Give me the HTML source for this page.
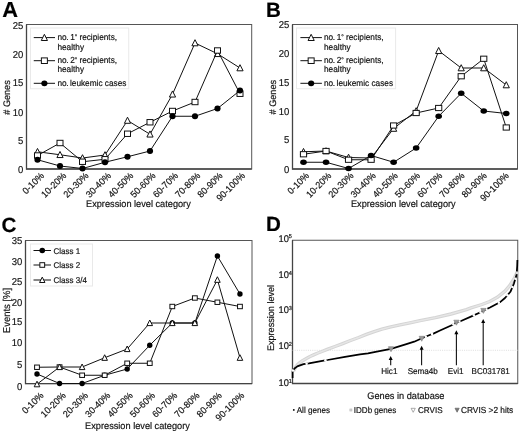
<!DOCTYPE html>
<html lang="en">
<head>
<meta charset="utf-8">
<title>Figure</title>
<style>
html,body{margin:0;padding:0;background:#fff;}
body{width:520px;height:433px;overflow:hidden;}
svg{display:block;font-family:"Liberation Sans", sans-serif;text-rendering:geometricPrecision;}
text{stroke:#111;stroke-width:0.18px;paint-order:stroke;}
</style>
</head>
<body>
<svg width="520" height="433" viewBox="0 0 520 433">
<rect x="0" y="0" width="520" height="433" fill="#fff"/>
<rect x="26.5" y="24.5" width="225.2" height="144.5" fill="#fff" stroke="#555" stroke-width="1"/>
<path d="M26.5,24.5 V169.0 H251.7" fill="none" stroke="#444" stroke-width="1.3"/>
<text transform="translate(2.30,16.90) scale(1,1)" font-size="21.80" text-anchor="start" font-weight="bold" fill="#000" stroke="none">A</text>
<text transform="translate(23.20,29.22) scale(0.955,1)" font-size="9.95" text-anchor="end" font-weight="normal" fill="#111" >25</text>
<text transform="translate(23.20,58.22) scale(0.955,1)" font-size="9.95" text-anchor="end" font-weight="normal" fill="#111" >20</text>
<text transform="translate(23.20,86.22) scale(0.955,1)" font-size="9.95" text-anchor="end" font-weight="normal" fill="#111" >15</text>
<text transform="translate(23.20,115.82) scale(0.955,1)" font-size="9.95" text-anchor="end" font-weight="normal" fill="#111" >10</text>
<text transform="translate(23.20,143.92) scale(0.955,1)" font-size="9.95" text-anchor="end" font-weight="normal" fill="#111" >5</text>
<text transform="translate(23.20,172.92) scale(0.955,1)" font-size="9.95" text-anchor="end" font-weight="normal" fill="#111" >0</text>
<text transform="translate(9.80,97.50) rotate(-90) scale(0.955,1)" font-size="9.53" text-anchor="middle" fill="#111"># Genes</text>
<text transform="translate(40.00,171.80) rotate(-45) scale(0.955,1)" font-size="9.42" text-anchor="end" fill="#111" y="6.48">0-10%</text>
<text transform="translate(62.33,171.80) rotate(-45) scale(0.955,1)" font-size="9.42" text-anchor="end" fill="#111" y="6.48">10-20%</text>
<text transform="translate(84.66,171.80) rotate(-45) scale(0.955,1)" font-size="9.42" text-anchor="end" fill="#111" y="6.48">20-30%</text>
<text transform="translate(106.99,171.80) rotate(-45) scale(0.955,1)" font-size="9.42" text-anchor="end" fill="#111" y="6.48">30-40%</text>
<text transform="translate(129.32,171.80) rotate(-45) scale(0.955,1)" font-size="9.42" text-anchor="end" fill="#111" y="6.48">40-50%</text>
<text transform="translate(151.65,171.80) rotate(-45) scale(0.955,1)" font-size="9.42" text-anchor="end" fill="#111" y="6.48">50-60%</text>
<text transform="translate(173.98,171.80) rotate(-45) scale(0.955,1)" font-size="9.42" text-anchor="end" fill="#111" y="6.48">60-70%</text>
<text transform="translate(196.31,171.80) rotate(-45) scale(0.955,1)" font-size="9.42" text-anchor="end" fill="#111" y="6.48">70-80%</text>
<text transform="translate(218.64,171.80) rotate(-45) scale(0.955,1)" font-size="9.42" text-anchor="end" fill="#111" y="6.48">80-90%</text>
<text transform="translate(240.97,171.80) rotate(-45) scale(0.955,1)" font-size="9.42" text-anchor="end" fill="#111" y="6.48">90-100%</text>
<text transform="translate(138.40,207.20) scale(0.955,1)" font-size="9.63" text-anchor="middle" font-weight="normal" fill="#111" >Expression level category</text>
<rect x="30.5" y="28" width="98.25" height="60.75" fill="#fff" stroke="#e9e9e9" stroke-width="1"/>
<line x1="33.75" y1="37.6" x2="55" y2="37.6" stroke="#111" stroke-width="1.0"/>
<polygon points="44.38,34.30 47.48,40.50 41.27,40.50" fill="#fff" stroke="#111" stroke-width="1.0" stroke-linejoin="miter"/>
<text transform="translate(57.40,40.10) scale(0.955,1)" font-size="8.67" text-anchor="start" font-weight="normal" fill="#111" >no<tspan dx="-0.5">.</tspan><tspan dx="-0.6"> 1</tspan><tspan font-size="6.6" dy="-0.9">°</tspan><tspan dx="-0.2" dy="0.9"> recipients,</tspan></text>
<text transform="translate(57.40,49.70) scale(0.955,1)" font-size="8.67" text-anchor="start" font-weight="normal" fill="#111" >healthy</text>
<line x1="33.75" y1="60.7" x2="55" y2="60.7" stroke="#111" stroke-width="1.0"/>
<rect x="41.38" y="57.90" width="6.00" height="5.60" fill="#fff" stroke="#111" stroke-width="1.0"/>
<text transform="translate(57.40,63.00) scale(0.955,1)" font-size="8.67" text-anchor="start" font-weight="normal" fill="#111" >no<tspan dx="-0.5">.</tspan><tspan dx="-0.6"> 2</tspan><tspan font-size="6.6" dy="-0.9">°</tspan><tspan dx="-0.2" dy="0.9"> recipients,</tspan></text>
<text transform="translate(57.40,72.20) scale(0.955,1)" font-size="8.67" text-anchor="start" font-weight="normal" fill="#111" >healthy</text>
<line x1="33.75" y1="83.3" x2="55" y2="83.3" stroke="#111" stroke-width="1.0"/>
<ellipse cx="44.38" cy="83.30" rx="3.1" ry="2.9" fill="#000"/>
<text transform="translate(57.40,86.00) scale(0.955,1)" font-size="8.67" text-anchor="start" font-weight="normal" fill="#111" >no<tspan dx="-0.5">.</tspan><tspan dx="-0.8"> leukemic cases</tspan></text>
<polyline points="37.50,151.75 60.00,154.75 82.50,158.00 105.00,155.00 127.50,120.50 150.00,134.25 172.50,94.25 195.00,43.00 217.50,53.75 240.00,68.00" fill="none" stroke="#111" stroke-width="1.0"/>
<polygon points="37.50,148.45 40.60,154.55 34.40,154.55" fill="#fff" stroke="#111" stroke-width="1.0" stroke-linejoin="miter"/>
<polygon points="60.00,151.45 63.10,157.55 56.90,157.55" fill="#fff" stroke="#111" stroke-width="1.0" stroke-linejoin="miter"/>
<polygon points="82.50,154.70 85.60,160.80 79.40,160.80" fill="#fff" stroke="#111" stroke-width="1.0" stroke-linejoin="miter"/>
<polygon points="105.00,151.70 108.10,157.80 101.90,157.80" fill="#fff" stroke="#111" stroke-width="1.0" stroke-linejoin="miter"/>
<polygon points="127.50,117.20 130.60,123.30 124.40,123.30" fill="#fff" stroke="#111" stroke-width="1.0" stroke-linejoin="miter"/>
<polygon points="150.00,130.95 153.10,137.05 146.90,137.05" fill="#fff" stroke="#111" stroke-width="1.0" stroke-linejoin="miter"/>
<polygon points="172.50,90.95 175.60,97.05 169.40,97.05" fill="#fff" stroke="#111" stroke-width="1.0" stroke-linejoin="miter"/>
<polygon points="195.00,39.70 198.10,45.80 191.90,45.80" fill="#fff" stroke="#111" stroke-width="1.0" stroke-linejoin="miter"/>
<polygon points="217.50,50.45 220.60,56.55 214.40,56.55" fill="#fff" stroke="#111" stroke-width="1.0" stroke-linejoin="miter"/>
<polygon points="240.00,64.70 243.10,70.80 236.90,70.80" fill="#fff" stroke="#111" stroke-width="1.0" stroke-linejoin="miter"/>
<polyline points="37.50,155.50 60.00,143.00 82.50,161.75 105.00,159.25 127.50,133.75 150.00,122.25 172.50,111.00 195.00,102.00 217.50,50.50 240.00,93.75" fill="none" stroke="#111" stroke-width="1.0"/>
<rect x="34.50" y="152.80" width="6.00" height="5.40" fill="#fff" stroke="#111" stroke-width="1.0"/>
<rect x="57.00" y="140.30" width="6.00" height="5.40" fill="#fff" stroke="#111" stroke-width="1.0"/>
<rect x="79.50" y="159.05" width="6.00" height="5.40" fill="#fff" stroke="#111" stroke-width="1.0"/>
<rect x="102.00" y="156.55" width="6.00" height="5.40" fill="#fff" stroke="#111" stroke-width="1.0"/>
<rect x="124.50" y="131.05" width="6.00" height="5.40" fill="#fff" stroke="#111" stroke-width="1.0"/>
<rect x="147.00" y="119.55" width="6.00" height="5.40" fill="#fff" stroke="#111" stroke-width="1.0"/>
<rect x="169.50" y="108.30" width="6.00" height="5.40" fill="#fff" stroke="#111" stroke-width="1.0"/>
<rect x="192.00" y="99.30" width="6.00" height="5.40" fill="#fff" stroke="#111" stroke-width="1.0"/>
<rect x="214.50" y="47.80" width="6.00" height="5.40" fill="#fff" stroke="#111" stroke-width="1.0"/>
<rect x="237.00" y="91.05" width="6.00" height="5.40" fill="#fff" stroke="#111" stroke-width="1.0"/>
<polyline points="37.50,159.75 60.00,166.00 82.50,168.50 105.00,162.25 127.50,156.75 150.00,151.00 172.50,116.25 195.00,116.25 217.50,108.50 240.00,90.50" fill="none" stroke="#111" stroke-width="1.0"/>
<ellipse cx="37.50" cy="159.75" rx="3.1" ry="2.9" fill="#000"/>
<ellipse cx="60.00" cy="166.00" rx="3.1" ry="2.9" fill="#000"/>
<ellipse cx="82.50" cy="168.50" rx="3.1" ry="2.9" fill="#000"/>
<ellipse cx="105.00" cy="162.25" rx="3.1" ry="2.9" fill="#000"/>
<ellipse cx="127.50" cy="156.75" rx="3.1" ry="2.9" fill="#000"/>
<ellipse cx="150.00" cy="151.00" rx="3.1" ry="2.9" fill="#000"/>
<ellipse cx="172.50" cy="116.25" rx="3.1" ry="2.9" fill="#000"/>
<ellipse cx="195.00" cy="116.25" rx="3.1" ry="2.9" fill="#000"/>
<ellipse cx="217.50" cy="108.50" rx="3.1" ry="2.9" fill="#000"/>
<ellipse cx="240.00" cy="90.50" rx="3.1" ry="2.9" fill="#000"/>
<rect x="292.5" y="24.5" width="225.0" height="144.5" fill="#fff" stroke="#555" stroke-width="1"/>
<path d="M292.5,24.5 V169.0 H517.5" fill="none" stroke="#444" stroke-width="1.3"/>
<text transform="translate(266.00,16.80) scale(1,1)" font-size="20.60" text-anchor="start" font-weight="bold" fill="#000" stroke="none">B</text>
<text transform="translate(289.30,28.42) scale(0.955,1)" font-size="9.95" text-anchor="end" font-weight="normal" fill="#111" >25</text>
<text transform="translate(289.30,56.72) scale(0.955,1)" font-size="9.95" text-anchor="end" font-weight="normal" fill="#111" >20</text>
<text transform="translate(289.30,86.02) scale(0.955,1)" font-size="9.95" text-anchor="end" font-weight="normal" fill="#111" >15</text>
<text transform="translate(289.30,114.72) scale(0.955,1)" font-size="9.95" text-anchor="end" font-weight="normal" fill="#111" >10</text>
<text transform="translate(289.30,143.42) scale(0.955,1)" font-size="9.95" text-anchor="end" font-weight="normal" fill="#111" >5</text>
<text transform="translate(289.30,173.32) scale(0.955,1)" font-size="9.95" text-anchor="end" font-weight="normal" fill="#111" >0</text>
<text transform="translate(275.50,97.20) rotate(-90) scale(0.955,1)" font-size="9.53" text-anchor="middle" fill="#111"># Genes</text>
<text transform="translate(305.10,171.80) rotate(-45) scale(0.955,1)" font-size="9.42" text-anchor="end" fill="#111" y="6.48">0-10%</text>
<text transform="translate(327.30,171.80) rotate(-45) scale(0.955,1)" font-size="9.42" text-anchor="end" fill="#111" y="6.48">10-20%</text>
<text transform="translate(349.50,171.80) rotate(-45) scale(0.955,1)" font-size="9.42" text-anchor="end" fill="#111" y="6.48">20-30%</text>
<text transform="translate(371.70,171.80) rotate(-45) scale(0.955,1)" font-size="9.42" text-anchor="end" fill="#111" y="6.48">30-40%</text>
<text transform="translate(393.90,171.80) rotate(-45) scale(0.955,1)" font-size="9.42" text-anchor="end" fill="#111" y="6.48">40-50%</text>
<text transform="translate(416.10,171.80) rotate(-45) scale(0.955,1)" font-size="9.42" text-anchor="end" fill="#111" y="6.48">50-60%</text>
<text transform="translate(438.30,171.80) rotate(-45) scale(0.955,1)" font-size="9.42" text-anchor="end" fill="#111" y="6.48">60-70%</text>
<text transform="translate(460.50,171.80) rotate(-45) scale(0.955,1)" font-size="9.42" text-anchor="end" fill="#111" y="6.48">70-80%</text>
<text transform="translate(482.70,171.80) rotate(-45) scale(0.955,1)" font-size="9.42" text-anchor="end" fill="#111" y="6.48">80-90%</text>
<text transform="translate(504.90,171.80) rotate(-45) scale(0.955,1)" font-size="9.42" text-anchor="end" fill="#111" y="6.48">90-100%</text>
<text transform="translate(403.30,207.40) scale(0.955,1)" font-size="9.63" text-anchor="middle" font-weight="normal" fill="#111" >Expression level category</text>
<rect x="296.5" y="28" width="99.10000000000002" height="60.75" fill="#fff" stroke="#e9e9e9" stroke-width="1"/>
<line x1="300.4" y1="37.6" x2="321.9" y2="37.6" stroke="#111" stroke-width="1.0"/>
<polygon points="311.15,34.30 314.25,40.50 308.05,40.50" fill="#fff" stroke="#111" stroke-width="1.0" stroke-linejoin="miter"/>
<text transform="translate(324.00,40.10) scale(0.955,1)" font-size="8.67" text-anchor="start" font-weight="normal" fill="#111" >no<tspan dx="-0.5">.</tspan><tspan dx="-0.6"> 1</tspan><tspan font-size="6.6" dy="-0.9">°</tspan><tspan dx="-0.2" dy="0.9"> recipients,</tspan></text>
<text transform="translate(324.00,49.70) scale(0.955,1)" font-size="8.67" text-anchor="start" font-weight="normal" fill="#111" >healthy</text>
<line x1="300.4" y1="60.7" x2="321.9" y2="60.7" stroke="#111" stroke-width="1.0"/>
<rect x="308.15" y="57.90" width="6.00" height="5.60" fill="#fff" stroke="#111" stroke-width="1.0"/>
<text transform="translate(324.00,63.00) scale(0.955,1)" font-size="8.67" text-anchor="start" font-weight="normal" fill="#111" >no<tspan dx="-0.5">.</tspan><tspan dx="-0.6"> 2</tspan><tspan font-size="6.6" dy="-0.9">°</tspan><tspan dx="-0.2" dy="0.9"> recipients,</tspan></text>
<text transform="translate(324.00,72.20) scale(0.955,1)" font-size="8.67" text-anchor="start" font-weight="normal" fill="#111" >healthy</text>
<line x1="300.4" y1="83.3" x2="321.9" y2="83.3" stroke="#111" stroke-width="1.0"/>
<ellipse cx="311.15" cy="83.30" rx="3.1" ry="2.9" fill="#000"/>
<text transform="translate(324.00,86.00) scale(0.955,1)" font-size="8.67" text-anchor="start" font-weight="normal" fill="#111" >no<tspan dx="-0.5">.</tspan><tspan dx="-0.8"> leukemic cases</tspan></text>
<polyline points="303.50,151.75 326.03,151.00 348.56,157.50 371.09,158.00 393.62,128.50 416.15,111.00 438.68,50.75 461.21,68.00 483.74,68.00 506.27,85.00" fill="none" stroke="#111" stroke-width="1.0"/>
<polygon points="303.50,148.45 306.60,154.55 300.40,154.55" fill="#fff" stroke="#111" stroke-width="1.0" stroke-linejoin="miter"/>
<polygon points="326.03,147.70 329.13,153.80 322.93,153.80" fill="#fff" stroke="#111" stroke-width="1.0" stroke-linejoin="miter"/>
<polygon points="348.56,154.20 351.66,160.30 345.46,160.30" fill="#fff" stroke="#111" stroke-width="1.0" stroke-linejoin="miter"/>
<polygon points="371.09,154.70 374.19,160.80 367.99,160.80" fill="#fff" stroke="#111" stroke-width="1.0" stroke-linejoin="miter"/>
<polygon points="393.62,125.20 396.72,131.30 390.52,131.30" fill="#fff" stroke="#111" stroke-width="1.0" stroke-linejoin="miter"/>
<polygon points="416.15,107.70 419.25,113.80 413.05,113.80" fill="#fff" stroke="#111" stroke-width="1.0" stroke-linejoin="miter"/>
<polygon points="438.68,47.45 441.78,53.55 435.58,53.55" fill="#fff" stroke="#111" stroke-width="1.0" stroke-linejoin="miter"/>
<polygon points="461.21,64.70 464.31,70.80 458.11,70.80" fill="#fff" stroke="#111" stroke-width="1.0" stroke-linejoin="miter"/>
<polygon points="483.74,64.70 486.84,70.80 480.64,70.80" fill="#fff" stroke="#111" stroke-width="1.0" stroke-linejoin="miter"/>
<polygon points="506.27,81.70 509.37,87.80 503.17,87.80" fill="#fff" stroke="#111" stroke-width="1.0" stroke-linejoin="miter"/>
<polyline points="303.50,154.25 326.03,151.00 348.56,159.75 371.09,159.75 393.62,125.50 416.15,113.00 438.68,108.00 461.21,76.25 483.74,58.75 506.27,127.50" fill="none" stroke="#111" stroke-width="1.0"/>
<rect x="300.40" y="151.65" width="6.20" height="5.20" fill="#fff" stroke="#111" stroke-width="1.0"/>
<rect x="322.93" y="148.40" width="6.20" height="5.20" fill="#fff" stroke="#111" stroke-width="1.0"/>
<rect x="345.46" y="157.15" width="6.20" height="5.20" fill="#fff" stroke="#111" stroke-width="1.0"/>
<rect x="367.99" y="157.15" width="6.20" height="5.20" fill="#fff" stroke="#111" stroke-width="1.0"/>
<rect x="390.52" y="122.90" width="6.20" height="5.20" fill="#fff" stroke="#111" stroke-width="1.0"/>
<rect x="413.05" y="110.40" width="6.20" height="5.20" fill="#fff" stroke="#111" stroke-width="1.0"/>
<rect x="435.58" y="105.40" width="6.20" height="5.20" fill="#fff" stroke="#111" stroke-width="1.0"/>
<rect x="458.11" y="73.65" width="6.20" height="5.20" fill="#fff" stroke="#111" stroke-width="1.0"/>
<rect x="480.64" y="56.15" width="6.20" height="5.20" fill="#fff" stroke="#111" stroke-width="1.0"/>
<rect x="503.17" y="124.90" width="6.20" height="5.20" fill="#fff" stroke="#111" stroke-width="1.0"/>
<polyline points="303.50,162.25 326.03,162.25 348.56,168.50 371.09,155.50 393.62,162.25 416.15,148.00 438.68,116.25 461.21,93.25 483.74,111.00 506.27,113.50" fill="none" stroke="#111" stroke-width="1.0"/>
<ellipse cx="303.50" cy="162.25" rx="3.3" ry="2.8" fill="#000"/>
<ellipse cx="326.03" cy="162.25" rx="3.3" ry="2.8" fill="#000"/>
<ellipse cx="348.56" cy="168.50" rx="3.3" ry="2.8" fill="#000"/>
<ellipse cx="371.09" cy="155.50" rx="3.3" ry="2.8" fill="#000"/>
<ellipse cx="393.62" cy="162.25" rx="3.3" ry="2.8" fill="#000"/>
<ellipse cx="416.15" cy="148.00" rx="3.3" ry="2.8" fill="#000"/>
<ellipse cx="438.68" cy="116.25" rx="3.3" ry="2.8" fill="#000"/>
<ellipse cx="461.21" cy="93.25" rx="3.3" ry="2.8" fill="#000"/>
<ellipse cx="483.74" cy="111.00" rx="3.3" ry="2.8" fill="#000"/>
<ellipse cx="506.27" cy="113.50" rx="3.3" ry="2.8" fill="#000"/>
<rect x="25.5" y="240.5" width="226.5" height="143.10000000000002" fill="#fff" stroke="#555" stroke-width="1"/>
<path d="M25.5,240.5 V383.6 H252" fill="none" stroke="#444" stroke-width="1.3"/>
<text transform="translate(1.60,231.70) scale(1,1)" font-size="20.60" text-anchor="start" font-weight="bold" fill="#000" stroke="none">C</text>
<text transform="translate(22.20,244.32) scale(0.955,1)" font-size="9.95" text-anchor="end" font-weight="normal" fill="#111" >35</text>
<text transform="translate(22.20,265.22) scale(0.955,1)" font-size="9.95" text-anchor="end" font-weight="normal" fill="#111" >30</text>
<text transform="translate(22.20,284.82) scale(0.955,1)" font-size="9.95" text-anchor="end" font-weight="normal" fill="#111" >25</text>
<text transform="translate(22.20,305.52) scale(0.955,1)" font-size="9.95" text-anchor="end" font-weight="normal" fill="#111" >20</text>
<text transform="translate(22.20,325.32) scale(0.955,1)" font-size="9.95" text-anchor="end" font-weight="normal" fill="#111" >15</text>
<text transform="translate(22.20,345.52) scale(0.955,1)" font-size="9.95" text-anchor="end" font-weight="normal" fill="#111" >10</text>
<text transform="translate(22.20,367.52) scale(0.955,1)" font-size="9.95" text-anchor="end" font-weight="normal" fill="#111" >5</text>
<text transform="translate(22.20,389.82) scale(0.955,1)" font-size="9.95" text-anchor="end" font-weight="normal" fill="#111" >0</text>
<text transform="translate(10.00,310.50) rotate(-90) scale(0.955,1)" font-size="9.95" text-anchor="middle" fill="#111">Events [%]</text>
<text transform="translate(39.50,391.40) rotate(-45) scale(0.955,1)" font-size="9.42" text-anchor="end" fill="#111" y="6.48">0-10%</text>
<text transform="translate(61.80,391.40) rotate(-45) scale(0.955,1)" font-size="9.42" text-anchor="end" fill="#111" y="6.48">10-20%</text>
<text transform="translate(84.10,391.40) rotate(-45) scale(0.955,1)" font-size="9.42" text-anchor="end" fill="#111" y="6.48">20-30%</text>
<text transform="translate(106.40,391.40) rotate(-45) scale(0.955,1)" font-size="9.42" text-anchor="end" fill="#111" y="6.48">30-40%</text>
<text transform="translate(128.70,391.40) rotate(-45) scale(0.955,1)" font-size="9.42" text-anchor="end" fill="#111" y="6.48">40-50%</text>
<text transform="translate(151.00,391.40) rotate(-45) scale(0.955,1)" font-size="9.42" text-anchor="end" fill="#111" y="6.48">50-60%</text>
<text transform="translate(173.30,391.40) rotate(-45) scale(0.955,1)" font-size="9.42" text-anchor="end" fill="#111" y="6.48">60-70%</text>
<text transform="translate(195.60,391.40) rotate(-45) scale(0.955,1)" font-size="9.42" text-anchor="end" fill="#111" y="6.48">70-80%</text>
<text transform="translate(217.90,391.40) rotate(-45) scale(0.955,1)" font-size="9.42" text-anchor="end" fill="#111" y="6.48">80-90%</text>
<text transform="translate(240.20,391.40) rotate(-45) scale(0.955,1)" font-size="9.42" text-anchor="end" fill="#111" y="6.48">90-100%</text>
<text transform="translate(137.50,428.50) scale(0.955,1)" font-size="9.63" text-anchor="middle" font-weight="normal" fill="#111" >Expression level category</text>
<rect x="30.5" y="244" width="62.0" height="42" fill="#fff" stroke="#e9e9e9" stroke-width="1"/>
<line x1="33.5" y1="250.5" x2="51" y2="250.5" stroke="#111" stroke-width="1.0"/>
<ellipse cx="42.25" cy="250.50" rx="2.8" ry="2.7" fill="#000"/>
<text transform="translate(53.50,253.60) scale(0.955,1)" font-size="8.38" text-anchor="start" font-weight="normal" fill="#111" >Class 1</text>
<line x1="33.5" y1="265" x2="51" y2="265" stroke="#111" stroke-width="1.0"/>
<rect x="39.85" y="262.70" width="4.80" height="4.60" fill="#fff" stroke="#111" stroke-width="1.0"/>
<text transform="translate(53.50,268.00) scale(0.955,1)" font-size="8.38" text-anchor="start" font-weight="normal" fill="#111" >Class 2</text>
<line x1="33.5" y1="280" x2="51" y2="280" stroke="#111" stroke-width="1.0"/>
<polygon points="42.25,277.10 44.95,282.50 39.55,282.50" fill="#fff" stroke="#111" stroke-width="1.0" stroke-linejoin="miter"/>
<text transform="translate(53.50,282.80) scale(0.955,1)" font-size="8.38" text-anchor="start" font-weight="normal" fill="#111" >Class 3/4</text>
<polyline points="37.00,374.00 59.55,383.50 82.10,383.50 104.65,375.25 127.20,369.00 149.75,345.25 172.30,323.00 194.85,323.00 217.40,256.00 239.95,294.00" fill="none" stroke="#111" stroke-width="1.0"/>
<ellipse cx="37.00" cy="374.00" rx="2.7" ry="2.65" fill="#000"/>
<ellipse cx="59.55" cy="383.50" rx="2.7" ry="2.65" fill="#000"/>
<ellipse cx="82.10" cy="383.50" rx="2.7" ry="2.65" fill="#000"/>
<ellipse cx="104.65" cy="375.25" rx="2.7" ry="2.65" fill="#000"/>
<ellipse cx="127.20" cy="369.00" rx="2.7" ry="2.65" fill="#000"/>
<ellipse cx="149.75" cy="345.25" rx="2.7" ry="2.65" fill="#000"/>
<ellipse cx="172.30" cy="323.00" rx="2.7" ry="2.65" fill="#000"/>
<ellipse cx="194.85" cy="323.00" rx="2.7" ry="2.65" fill="#000"/>
<ellipse cx="217.40" cy="256.00" rx="2.7" ry="2.65" fill="#000"/>
<ellipse cx="239.95" cy="294.00" rx="2.7" ry="2.65" fill="#000"/>
<polyline points="37.00,367.25 59.55,367.00 82.10,375.25 104.65,375.25 127.20,363.25 149.75,363.25 172.30,306.50 194.85,298.00 217.40,302.25 239.95,306.50" fill="none" stroke="#111" stroke-width="1.0"/>
<rect x="34.60" y="365.05" width="4.80" height="4.40" fill="#fff" stroke="#111" stroke-width="1.0"/>
<rect x="57.15" y="364.80" width="4.80" height="4.40" fill="#fff" stroke="#111" stroke-width="1.0"/>
<rect x="79.70" y="373.05" width="4.80" height="4.40" fill="#fff" stroke="#111" stroke-width="1.0"/>
<rect x="102.25" y="373.05" width="4.80" height="4.40" fill="#fff" stroke="#111" stroke-width="1.0"/>
<rect x="124.80" y="361.05" width="4.80" height="4.40" fill="#fff" stroke="#111" stroke-width="1.0"/>
<rect x="147.35" y="361.05" width="4.80" height="4.40" fill="#fff" stroke="#111" stroke-width="1.0"/>
<rect x="169.90" y="304.30" width="4.80" height="4.40" fill="#fff" stroke="#111" stroke-width="1.0"/>
<rect x="192.45" y="295.80" width="4.80" height="4.40" fill="#fff" stroke="#111" stroke-width="1.0"/>
<rect x="215.00" y="300.05" width="4.80" height="4.40" fill="#fff" stroke="#111" stroke-width="1.0"/>
<rect x="237.55" y="304.30" width="4.80" height="4.40" fill="#fff" stroke="#111" stroke-width="1.0"/>
<polyline points="37.00,384.20 59.55,367.00 82.10,367.00 104.65,357.75 127.20,349.00 149.75,323.00 172.30,323.00 194.85,323.00 217.40,279.75 239.95,357.75" fill="none" stroke="#111" stroke-width="1.0"/>
<polygon points="37.00,381.20 39.80,386.80 34.20,386.80" fill="#fff" stroke="#111" stroke-width="1.0" stroke-linejoin="miter"/>
<polygon points="59.55,364.00 62.35,369.60 56.75,369.60" fill="#fff" stroke="#111" stroke-width="1.0" stroke-linejoin="miter"/>
<polygon points="82.10,364.00 84.90,369.60 79.30,369.60" fill="#fff" stroke="#111" stroke-width="1.0" stroke-linejoin="miter"/>
<polygon points="104.65,354.75 107.45,360.35 101.85,360.35" fill="#fff" stroke="#111" stroke-width="1.0" stroke-linejoin="miter"/>
<polygon points="127.20,346.00 130.00,351.60 124.40,351.60" fill="#fff" stroke="#111" stroke-width="1.0" stroke-linejoin="miter"/>
<polygon points="149.75,320.00 152.55,325.60 146.95,325.60" fill="#fff" stroke="#111" stroke-width="1.0" stroke-linejoin="miter"/>
<polygon points="172.30,320.00 175.10,325.60 169.50,325.60" fill="#fff" stroke="#111" stroke-width="1.0" stroke-linejoin="miter"/>
<polygon points="194.85,320.00 197.65,325.60 192.05,325.60" fill="#fff" stroke="#111" stroke-width="1.0" stroke-linejoin="miter"/>
<polygon points="217.40,276.75 220.20,282.35 214.60,282.35" fill="#fff" stroke="#111" stroke-width="1.0" stroke-linejoin="miter"/>
<polygon points="239.95,354.75 242.75,360.35 237.15,360.35" fill="#fff" stroke="#111" stroke-width="1.0" stroke-linejoin="miter"/>
<rect x="292.5" y="240.25" width="225.25" height="143.25" fill="#fff" stroke="#555" stroke-width="1"/>
<path d="M292.5,240.25 V383.5 H517.75" fill="none" stroke="#444" stroke-width="1.3"/>
<text transform="translate(266.00,231.40) scale(1,1)" font-size="20.60" text-anchor="start" font-weight="bold" fill="#000" stroke="none">D</text>
<text transform="translate(291.9,241.70) scale(0.955,1)" font-size="9.74" text-anchor="end" fill="#111">10<tspan font-size="5.8" dy="-3.3">5</tspan></text>
<text transform="translate(291.9,278.30) scale(0.955,1)" font-size="9.74" text-anchor="end" fill="#111">10<tspan font-size="5.8" dy="-3.3">4</tspan></text>
<text transform="translate(291.9,313.30) scale(0.955,1)" font-size="9.74" text-anchor="end" fill="#111">10<tspan font-size="5.8" dy="-3.3">3</tspan></text>
<text transform="translate(291.9,349.40) scale(0.955,1)" font-size="9.74" text-anchor="end" fill="#111">10<tspan font-size="5.8" dy="-3.3">2</tspan></text>
<text transform="translate(291.9,385.80) scale(0.955,1)" font-size="9.74" text-anchor="end" fill="#111">10<tspan font-size="5.8" dy="-3.3">1</tspan></text>
<text transform="translate(273.90,318.00) rotate(-90) scale(0.955,1)" font-size="9.53" text-anchor="middle" fill="#111">Expression level</text>
<text transform="translate(405.90,398.70) scale(0.955,1)" font-size="9.63" text-anchor="middle" font-weight="normal" fill="#111" >Genes in database</text>
<line x1="292.5" y1="350.3" x2="517.75" y2="350.3" stroke="#d4d4d4" stroke-width="0.8" stroke-dasharray="1 1.2"/>
<path d="M294.20,370.00 L295.60,367.00 L297.60,364.60 L300.20,362.40 L303.00,360.40 L306.40,358.50 L310.00,356.50 L314.20,354.60 L318.00,353.00 L321.90,351.50 L327.20,349.40 L335.00,346.50 L342.70,343.60 L350.50,340.50 L358.70,337.50 L366.40,334.40 L374.20,331.60 L381.90,329.20 L389.70,327.10 L400.00,324.90 L410.00,322.80 L420.00,320.70 L435.50,317.60 L451.00,314.00 L466.40,309.60 L471.00,307.90 L481.90,304.50 L489.70,301.50 L497.30,297.30 L505.00,291.20 L509.70,285.70 L514.30,278.40 L516.60,273.40" fill="none" stroke="#d4d4d4" stroke-width="3.4" stroke-linejoin="round" stroke-linecap="round"/>
<path d="M294.20,370.00 L295.60,367.00 L297.60,364.60 L300.20,362.40 L303.00,360.40 L306.40,358.50 L310.00,356.50 L314.20,354.60 L318.00,353.00 L321.90,351.50 L327.20,349.40 L335.00,346.50 L342.70,343.60 L350.50,340.50 L358.70,337.50 L366.40,334.40 L374.20,331.60 L381.90,329.20 L389.70,327.10 L400.00,324.90 L410.00,322.80 L420.00,320.70 L435.50,317.60 L451.00,314.00 L466.40,309.60 L471.00,307.90 L481.90,304.50 L489.70,301.50 L497.30,297.30 L505.00,291.20 L509.70,285.70 L514.30,278.40 L516.60,273.40" fill="none" stroke="#e6e6e6" stroke-width="1.4" stroke-linejoin="round"/>
<path d="M292.60,378.00 L292.60,371.00 L294.50,368.50 L297.30,366.40 L303.50,364.10 L308.90,363.30 L323.60,360.60 L327.50,360.00 L345.00,356.80 L360.00,354.40 L368.00,353.40 L375.50,351.90 L391.00,348.80 L406.40,344.20 L414.20,341.70 L421.90,338.30 L429.70,335.00 L433.90,333.40 L440.00,330.50 L451.70,325.20 L456.40,322.60 L461.00,321.00 L472.60,315.90 L481.10,312.00 L483.40,310.60 L490.00,307.50 L496.60,304.00 L500.40,301.90 L505.00,298.00 L510.40,291.80 L514.00,283.30 L516.60,274.80 L517.20,266.00 L517.40,260.00" fill="none" stroke="#000" stroke-width="1.75" stroke-linejoin="round"/>
<circle cx="292.9" cy="370.61" r="1.25" fill="#fff"/>
<circle cx="306.6" cy="363.64" r="1.25" fill="#fff"/>
<circle cx="325.4" cy="360.32" r="1.25" fill="#fff"/>
<circle cx="425.8" cy="336.65" r="1.25" fill="#fff"/>
<circle cx="432.0" cy="334.12" r="1.25" fill="#fff"/>
<circle cx="453.4" cy="324.26" r="1.25" fill="#fff"/>
<circle cx="459.3" cy="321.59" r="1.25" fill="#fff"/>
<circle cx="473.9" cy="315.30" r="1.25" fill="#fff"/>
<circle cx="480.6" cy="312.23" r="1.25" fill="#fff"/>
<circle cx="486.4" cy="309.19" r="1.25" fill="#fff"/>
<circle cx="498.8" cy="302.78" r="1.25" fill="#fff"/>
<circle cx="507.5" cy="295.13" r="1.25" fill="#fff"/>
<circle cx="512.4" cy="287.08" r="1.25" fill="#fff"/>
<circle cx="515.4" cy="278.72" r="1.25" fill="#fff"/>
<circle cx="516.9" cy="272.8" r="1.5" fill="#ddd"/>
<polygon points="388.40,346.72 393.60,346.72 391.00,351.66" fill="#999" stroke="#888" stroke-width="0.7"/>
<polygon points="419.10,336.32 424.30,336.32 421.70,341.26" fill="#999" stroke="#888" stroke-width="0.7"/>
<polygon points="453.80,320.22 459.00,320.22 456.40,325.16" fill="#999" stroke="#888" stroke-width="0.7"/>
<polygon points="480.80,308.42 486.00,308.42 483.40,313.36" fill="#999" stroke="#888" stroke-width="0.7"/>
<line x1="390.7" y1="365.2" x2="390.7" y2="358" stroke="#111" stroke-width="1.1"/>
<polygon points="390.7,356 388.7,360.0 392.7,360.0" fill="#000"/>
<line x1="421.6" y1="365.2" x2="421.6" y2="347.7" stroke="#111" stroke-width="1.1"/>
<polygon points="421.6,345.7 419.6,349.7 423.6,349.7" fill="#000"/>
<line x1="456.4" y1="365.2" x2="456.4" y2="332.3" stroke="#111" stroke-width="1.1"/>
<polygon points="456.4,330.3 454.4,334.3 458.4,334.3" fill="#000"/>
<line x1="483.2" y1="365.2" x2="483.2" y2="321" stroke="#111" stroke-width="1.1"/>
<polygon points="483.2,319 481.2,323.0 485.2,323.0" fill="#000"/>
<text transform="translate(389.30,374.10) scale(0.955,1)" font-size="8.48" text-anchor="middle" font-weight="normal" fill="#111" >Hic1</text>
<text transform="translate(422.70,374.10) scale(0.955,1)" font-size="8.48" text-anchor="middle" font-weight="normal" fill="#111" >Sema4b</text>
<text transform="translate(455.60,374.10) scale(0.955,1)" font-size="8.48" text-anchor="middle" font-weight="normal" fill="#111" >Evi1</text>
<text transform="translate(490.60,374.10) scale(0.955,1)" font-size="8.48" text-anchor="middle" font-weight="normal" fill="#111" >BC031781</text>
<circle cx="293.8" cy="409.9" r="0.9" fill="#000"/>
<text transform="translate(296.70,413.30) scale(0.955,1)" font-size="8.48" text-anchor="start" font-weight="normal" fill="#111" >All genes</text>
<rect x="349.9" y="409.0" width="2" height="2" fill="#ddd" stroke="#bbb" stroke-width="0.7"/>
<text transform="translate(353.70,413.30) scale(0.955,1)" font-size="8.48" text-anchor="start" font-weight="normal" fill="#111" >IDDb genes</text>
<polygon points="411.10,408.32 415.30,408.32 413.20,412.31" fill="#fff" stroke="#888" stroke-width="0.7"/>
<text transform="translate(418.00,413.30) scale(0.955,1)" font-size="8.48" text-anchor="start" font-weight="normal" fill="#111" >CRVIS</text>
<polygon points="455.00,408.22 459.20,408.22 457.10,412.21" fill="#777" stroke="#666" stroke-width="0.7"/>
<text transform="translate(461.00,413.40) scale(0.955,1)" font-size="8.71" text-anchor="start" font-weight="normal" fill="#111" >CRVIS &gt;2 hits</text>
</svg>
</body>
</html>
